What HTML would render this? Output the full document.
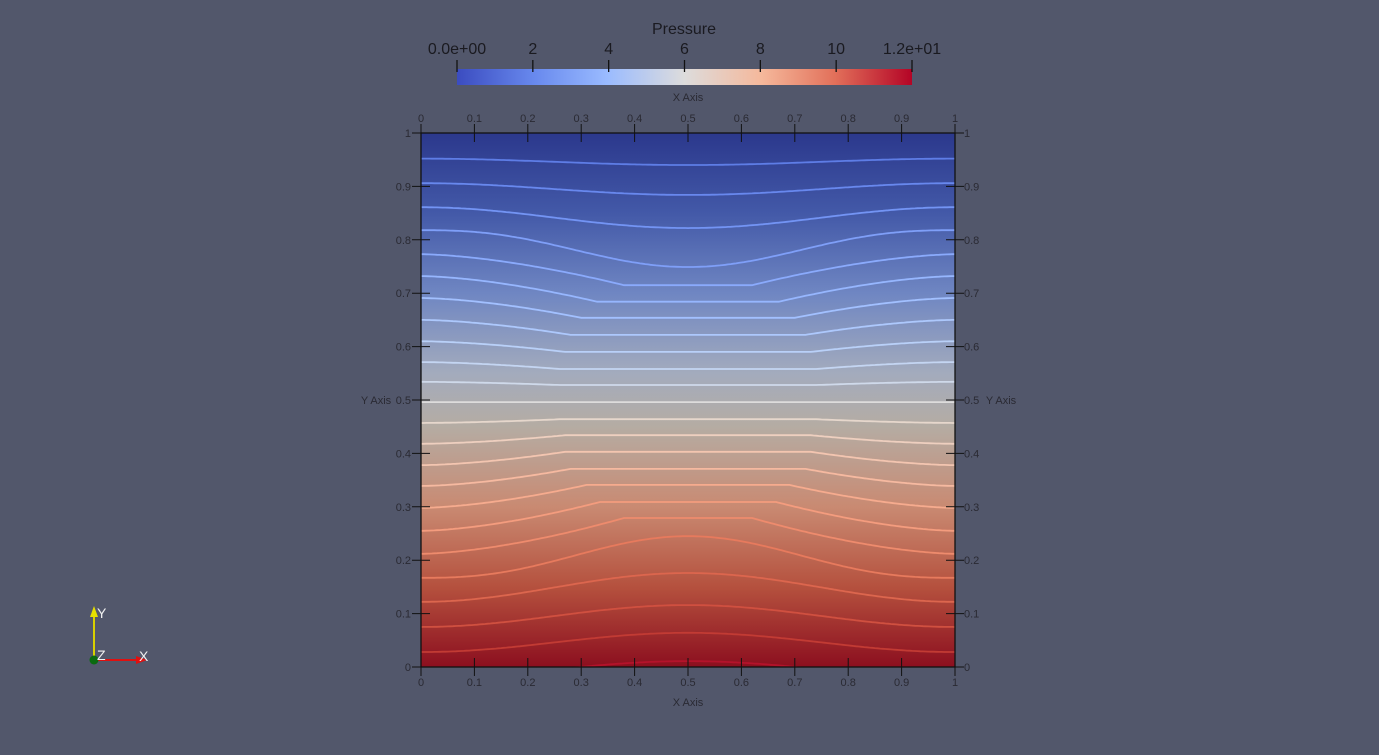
<!DOCTYPE html>
<html><head><meta charset="utf-8"><style>
html,body{margin:0;padding:0;background:#52576b;}
svg{display:block;font-family:"Liberation Sans","DejaVu Sans",sans-serif;}
</style></head><body>
<svg id="chart" width="1379" height="755" viewBox="0 0 1379 755">
<defs>
<linearGradient id="cbar" x1="0" x2="1" y1="0" y2="0">
<stop offset="0" stop-color="#3b4cc0"/><stop offset="0.17" stop-color="#6889ee"/><stop offset="0.33" stop-color="#9abbff"/><stop offset="0.5" stop-color="#dddcdc"/><stop offset="0.67" stop-color="#f5b89b"/><stop offset="0.83" stop-color="#e2705a"/><stop offset="1" stop-color="#b40426"/>
</linearGradient>
<linearGradient id="field" x1="0" x2="0" y1="0" y2="1">
<stop offset="0" stop-color="#2b388c"/><stop offset="0.15" stop-color="#4359a8"/><stop offset="0.3" stop-color="#6f86c2"/><stop offset="0.45" stop-color="#a3abbd"/><stop offset="0.55" stop-color="#b5aca3"/><stop offset="0.7" stop-color="#c98a72"/><stop offset="0.85" stop-color="#b5513e"/><stop offset="1" stop-color="#8c0f1f"/>
</linearGradient>
<clipPath id="plotclip"><rect x="421" y="133" width="534" height="534"/></clipPath>
</defs>
</svg>
<script>
const xTicks=[0,0.1,0.2,0.3,0.4,0.5,0.6,0.7,0.8,0.9,1];
const yTicks=[0,0.1,0.2,0.3,0.4,0.5,0.6,0.7,0.8,0.9,1];
const cbarTicks=[0,2,4,6,8,10,12];
const cbarLabels=["0.0e+00","2","4","6","8","10","1.2e+01"];
// contour data: y value at domain edge, y value at center, plateau half width
const contourEdge=[0.952,0.906,0.861,0.818,0.773,0.732,0.691,0.650,0.610,0.571,0.534,0.496,0.457,0.418,0.378,0.339,0.298,0.255,0.212,0.167,0.122,0.075,0.028,-0.02];
const contourCenter=[0.940,0.884,0.822,0.749,0.715,0.684,0.654,0.622,0.590,0.558,0.528,0.496,0.464,0.434,0.403,0.371,0.341,0.309,0.279,0.245,0.176,0.116,0.064,0.011];
const contourPlateau=[0,0,0,0,0.12,0.17,0.2,0.22,0.23,0.24,0.24,0.24,0.24,0.23,0.23,0.22,0.19,0.165,0.12,0,0,0,0,0];
const contourColor=["#5e7de6","#6888ee","#7394f4","#7f9ff8","#8aaafc","#96b6fe","#a2c0ff","#adc8fc","#b9d0f8","#c4d5f2","#cfd9ea","#dddcdc","#e6d7cc","#eecfbf","#f3c5b0","#f6b9a0","#f6ab8e","#f49c7e","#ee8b6d","#e77a5d","#dc664e","#d05040","#c23b34","#b4132b"];
const X0=421,X1=955,Y0=667,Y1=133;
const sx=v=>X0+(X1-X0)*v, sy=v=>Y0-(Y0-Y1)*v;
const cx=v=>457+(912-457)*v/12;
const svg=document.getElementById('chart');
const NS='http://www.w3.org/2000/svg';
function mk(tag,attrs,parent){const e=document.createElementNS(NS,tag);for(const k in attrs)e.setAttribute(k,attrs[k]);(parent||svg).appendChild(e);return e;}
function txt(s,x,y,size,anchor,fill){const t=mk('text',{x:x,y:y,'font-size':size,'text-anchor':anchor,fill:fill||'#1c1c22'});t.textContent=s;return t;}

let t=txt('Pressure',684,34,16,'middle','#1a1a20');


let cb=mk('rect',{x:457,y:69,width:455,height:16,fill:'url(#cbar)'});


cbarTicks.forEach((v,i)=>{
 const l=mk('line',{x1:cx(v),x2:cx(v),y1:60,y2:72,stroke:'#111',"stroke-width":1.3});
 
 
 const tt=txt(cbarLabels[i],cx(v),54,16,'middle','#1a1a20');
 
 
});

const f=mk('rect',{x:X0,y:Y1,width:X1-X0,height:Y0-Y1,fill:'url(#field)'});


const cg=mk('g',{'clip-path':'url(#plotclip)'});
contourEdge.forEach((e,i)=>{
 const c=contourCenter[i],p=contourPlateau[i];
 let d='';
 for(let k=0;k<=200;k++){
  const x=k/200,dd=Math.abs(x-0.5);
  let w;
  if(p===0){
   if(i===3||i===19) w=Math.pow(Math.cos(Math.PI*dd),2.6);
   else w=Math.pow(Math.cos(Math.PI*dd),2);
  }
  else w=dd<=p?1:Math.pow((0.5-dd)/(0.5-p),1.6);
  const y=e+(c-e)*w;
  d+=(k?'L':'M')+sx(x).toFixed(1)+' '+sy(y).toFixed(1);
 }
 const pth=mk('path',{d:d,fill:'none',stroke:contourColor[i],'stroke-width':1.8},cg);
 
 
});
const frame=mk('rect',{x:X0,y:Y1,width:X1-X0,height:Y0-Y1,fill:'none',stroke:'#111','stroke-width':1.3});



function cross(x,y){
 const g=mk('g',{stroke:'#111','stroke-width':1});
 
 
 mk('line',{x1:x-9,x2:x+9,y1:y,y2:y},g);mk('line',{x1:x,x2:x,y1:y-9,y2:y+9},g);
}
xTicks.forEach(v=>{
 cross(sx(v),Y1);cross(sx(v),Y0);
 let a=txt(String(v),sx(v),122,11,'middle','#2a2a33');
 
 
 let b=txt(String(v),sx(v),686,11,'middle','#2a2a33');
 
 
});
yTicks.forEach(v=>{
 cross(X0,sy(v));cross(X1,sy(v));
 let a=txt(String(v),X0-10,sy(v)+4,11,'end','#2a2a33');
 
 
 let b=txt(String(v),X1+9,sy(v)+4,11,'start','#2a2a33');
 
 
});
let at=txt('X Axis',688,101,11,'middle','#2a2a33');


at=txt('X Axis',688,706,11,'middle','#2a2a33');


at=txt('Y Axis',376,404,11,'middle','#2a2a33');


at=txt('Y Axis',1001,404,11,'middle','#2a2a33');



const og=mk('g',{});


mk('line',{x1:94,y1:660,x2:94,y2:612,stroke:'#d8d000','stroke-width':2},og);
mk('polygon',{points:'90,617 98,617 94,606',fill:'#e6e000'},og);
mk('line',{x1:94,y1:660,x2:140,y2:660,stroke:'#e01010','stroke-width':2},og);
mk('polygon',{points:'136,656 136,664 147,660',fill:'#e01010'},og);
mk('circle',{cx:94,cy:660,r:4.5,fill:'#0a6a10'},og);
let oy=txt('Y',97,618,14,'start','#f0f0f0');
let oz=txt('Z',97,660,14,'start','#f0f0f0');
let ox=txt('X',139,661,14,'start','#f0f0f0');
</script>
</body></html>
